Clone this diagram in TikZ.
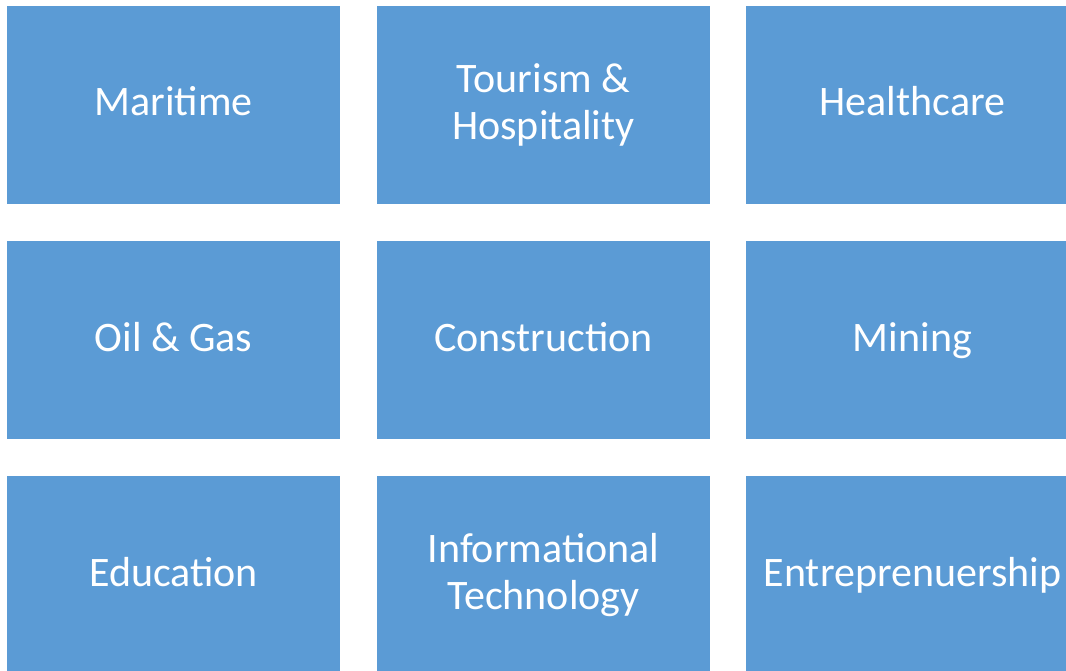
\documentclass[tikz,border=0pt]{standalone}
\usepackage{fontspec}
\setmainfont{Carlito}
\usetikzlibrary{positioning}

\definecolor{tileblue}{HTML}{5B9BD5}

\tikzset{
  tile/.style={rectangle, fill=tileblue, draw=none, minimum width=333pt, minimum height=198pt,
    text=white, align=center, inner sep=0pt,
    font=\fontsize{42}{47}\selectfont},
  oneline/.style={tile, text height=31pt, text depth=9pt},
}

\begin{document}
\begin{tikzpicture}[x=1pt, y=-1pt]
  \useasboundingbox (0,0) rectangle (1066,671);
  \clip (0,0) rectangle (1066,671);

  % first row
  \node[oneline] (maritime) at (173.5,105) {Maritime};
  \node[tile] (tourism) at (543.5,105) {Tourism \&\\Hospitality};
  \node[oneline] (health) at (912.5,105) {Healthcare};

  % second row
  \node[oneline] (oilgas) at (173.5,340) {Oil \& Gas};
  \node[oneline] (construct) at (543.5,340) {Construction};
  \node[oneline] (mining) at (912.5,340) {Mining};

  % third row
  \node[oneline] (educ) at (173.5,575) {Education};
  \node[tile] (infotech) at (543.5,575) {Informational\\Technology};
  \node[oneline] (entre) at (912.5,575) {Entreprenuership};
\end{tikzpicture}
\end{document}
